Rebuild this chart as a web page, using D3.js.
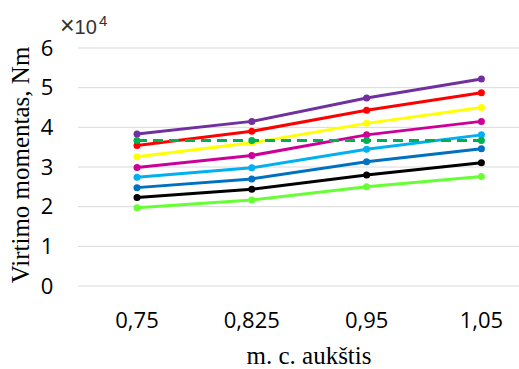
<!DOCTYPE html>
<html>
<head>
<meta charset="utf-8">
<script src="https://cdn.jsdelivr.net/npm/d3@7"></script>
<style>
  body { margin: 0; background: #fff; }
  svg { display: block; }
</style>
</head>
<body>
<div id="chart-area"></div>
<script>
// values in units of 10^4 Nm
var heights = ["0,75", "0,825", "0,95", "1,05"];
var yTicks = [0, 1, 2, 3, 4, 5, 6];

var purple  = [3.83, 4.15, 4.74, 5.22];
var red     = [3.54, 3.90, 4.43, 4.87];
var yellow  = [3.26, 3.61, 4.10, 4.50];
var magenta = [2.99, 3.29, 3.81, 4.15];
var cyan    = [2.74, 2.98, 3.45, 3.81];
var blue    = [2.48, 2.70, 3.13, 3.46];
var black   = [2.23, 2.44, 2.80, 3.11];
var lime    = [1.97, 2.17, 2.50, 2.76];
var limit   = [3.67, 3.67, 3.67, 3.67];

var series = [
  {values: purple,  color: "#7030a0"},
  {values: red,     color: "#ff0000"},
  {values: yellow,  color: "#ffff00"},
  {values: magenta, color: "#cc0099"},
  {values: cyan,    color: "#00b0f0"},
  {values: blue,    color: "#0070c0"},
  {values: black,   color: "#000000"},
  {values: lime,    color: "#66ff33"}
];

var width = 519;
var height = 369;

var svg = d3.select('#chart-area')
  .append('svg')
    .attr('width', width)
    .attr('height', height);

var x = d3.scaleBand()
  .domain(heights)
  .range([79.6, 538.8]);

var y = d3.scaleLinear()
  .domain([0, 6])
  .range([286, 48]);

// gridlines
svg.append("g")
  .selectAll("line")
  .data(yTicks)
  .enter().append("line")
    .attr("x1", 78)
    .attr("x2", width)
    .attr("y1", d => y(d))
    .attr("y2", d => y(d))
    .attr("stroke", "#d9d9d9")
    .attr("stroke-width", 1);

// y tick labels
svg.append("g")
  .selectAll("text")
  .data(yTicks)
  .enter().append("text")
    .attr("x", 47)
    .attr("y", d => y(d))
    .attr("dy", "0.35em")
    .attr("text-anchor", "middle")
    .style("font-family", "Open Sans, sans-serif")
    .style("font-size", "22px")
    .attr("fill", "#000")
    .text(d => d);

// x tick labels
svg.append("g")
  .selectAll("text")
  .data(heights)
  .enter().append("text")
    .attr("x", d => x(d) + x.bandwidth() / 2)
    .attr("y", 328)
    .attr("text-anchor", "middle")
    .style("font-family", "Open Sans, sans-serif")
    .style("font-size", "22px")
    .attr("fill", "#000")
    .text(d => d);

// exponent label
var ex = svg.append("text")
  .attr("x", 60)
  .attr("y", 34)
  .style("font-family", "Liberation Sans, sans-serif")
  .attr("fill", "#333");
ex.append("tspan").style("font-size", "25px").text("\u00d7");
ex.append("tspan").style("font-size", "20px").text("10");
svg.append("text")
  .attr("x", 99)
  .attr("y", 26)
  .style("font-family", "Liberation Sans, sans-serif")
  .style("font-size", "15px")
  .attr("fill", "#333")
  .text("4");

// axis titles
svg.append("text")
  .attr("transform", "translate(29, 165) rotate(-90)")
  .attr("text-anchor", "middle")
  .style("font-family", "Liberation Serif, serif")
  .style("font-size", "25px")
  .attr("fill", "#000")
  .text("Virtimo momentas, Nm");

svg.append("text")
  .attr("x", 309)
  .attr("y", 364)
  .attr("text-anchor", "middle")
  .style("font-family", "Liberation Serif, serif")
  .style("font-size", "25px")
  .attr("fill", "#000")
  .text("m. c. auk\u0161tis");

var line = d3.line()
  .x((d, i) => x(heights[i]) + x.bandwidth() / 2)
  .y(d => y(d));

function drawSeries(s, dashed) {
  var grp = svg.append("g");
  grp.append("path")
    .attr("d", line(s.values))
    .attr("fill", "none")
    .attr("stroke", s.color)
    .attr("stroke-width", 3)
    .attr("stroke-dasharray", dashed ? "10,6" : null);
  grp.selectAll("circle")
    .data(s.values)
    .enter().append("circle")
      .attr("cx", (d, i) => x(heights[i]) + x.bandwidth() / 2)
      .attr("cy", d => y(d))
      .attr("r", 3.5)
      .attr("fill", s.color);
}

series.slice().reverse().forEach(s => drawSeries(s, false));
drawSeries({values: limit, color: "#00b050"}, true);
</script>
</body>
</html>
